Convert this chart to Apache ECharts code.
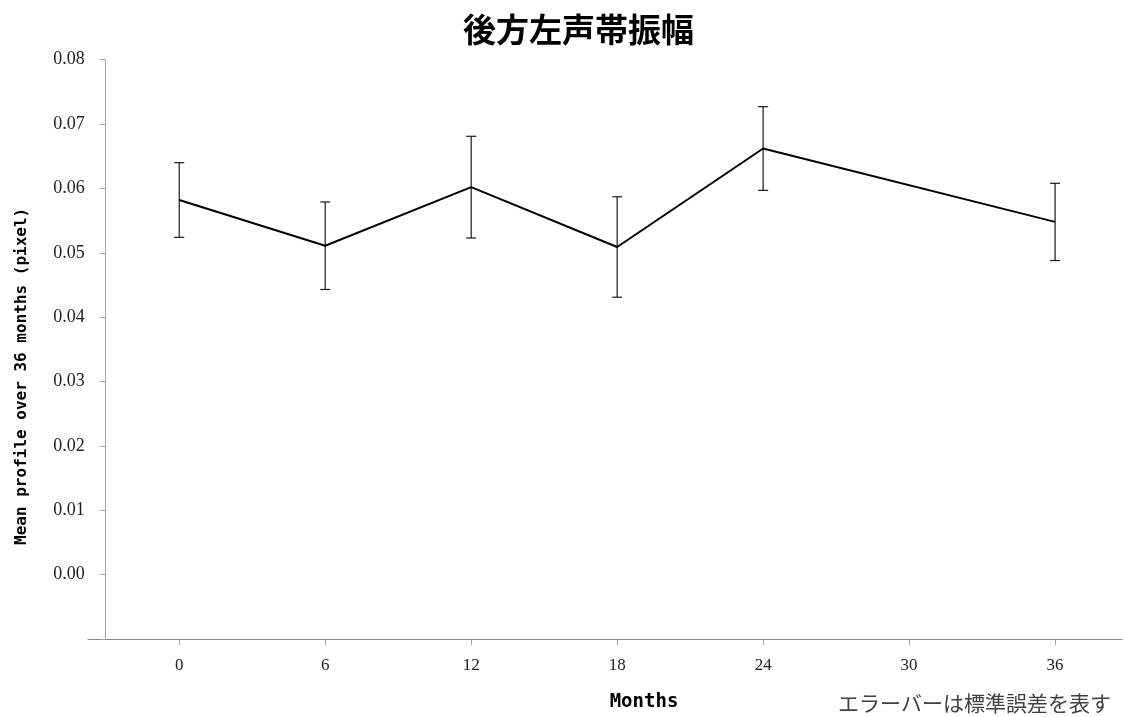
<!DOCTYPE html>
<html>
<head>
<meta charset="utf-8">
<script src="https://cdn.jsdelivr.net/npm/echarts@6/dist/echarts.min.js"></script>
<style>
  html, body { margin: 0; padding: 0; background: #fff; }
  #chart { width: 1124px; height: 717px; }
</style>
</head>
<body>
<div id="chart"></div>
<script>
// Measurement months and mean vocal-fold amplitude with its standard error
const months = [0, 6, 12, 18, 24, 36];
const meanProfile = [0.0582, 0.0511, 0.0602, 0.0509, 0.0662, 0.0548];
const stdError = [0.0058, 0.0068, 0.0079, 0.0078, 0.0065, 0.0060];
const monthTicks = [0, 6, 12, 18, 24, 30, 36];

const titleText = '後方左声帯振幅';
const xName = 'Months';
const yName = 'Mean profile over 36 months (pixel)';
const noteText = 'エラーバーは標準誤差を表す';

const linePoints = months.map((m, i) => [m, meanProfile[i]]);
const errorRanges = months.map((m, i) => [m, meanProfile[i] - stdError[i], meanProfile[i] + stdError[i]]);

const chart = echarts.init(document.getElementById('chart'), null, { renderer: 'canvas' });

const monoBold = '"DejaVu Sans Mono", "Liberation Mono", monospace';
const serif = '"Liberation Serif", "DejaVu Serif", serif';

chart.setOption({
  animation: false,
  backgroundColor: '#ffffff',
  title: [
    {
      text: titleText,
      left: 458,
      top: 8,
      textStyle: {
        fontFamily: '"Noto Sans CJK JP", sans-serif',
        fontSize: 33,
        fontWeight: 'bold',
        color: '#000'
      }
    },
    {
      text: noteText,
      right: 8,
      top: 688,
      textStyle: {
        fontFamily: '"Noto Sans CJK JP", sans-serif',
        fontSize: 21,
        fontWeight: 'normal',
        color: '#404040'
      }
    }
  ],
  grid: {
    left: 88,
    top: 59.7,
    width: 1034,
    height: 581.6,
    containLabel: false
  },
  xAxis: {
    type: 'value',
    min: -3.75,
    max: 38.75,
    name: xName,
    nameLocation: 'middle',
    nameGap: 54,
    nameTextStyle: {
      fontFamily: monoBold,
      fontWeight: 'bold',
      fontSize: 19,
      color: '#000',
      padding: [0, 0, 0, 78]
    },
    axisLine: { show: true, onZero: false, lineStyle: { color: '#868686', width: 1 } },
    axisTick: {
      show: true,
      inside: false,
      length: 6,
      customValues: monthTicks,
      lineStyle: { color: '#a0a0a0', width: 1 }
    },
    axisLabel: {
      customValues: monthTicks,
      margin: 18,
      fontFamily: serif,
      fontSize: 17,
      color: '#222'
    },
    splitLine: { show: false }
  },
  yAxis: {
    type: 'value',
    min: -0.01,
    max: 0.08,
    interval: 0.01,
    offset: -17.7,
    name: yName,
    nameLocation: 'middle',
    nameGap: 76,
    nameTextStyle: {
      fontFamily: monoBold,
      fontWeight: 'bold',
      fontSize: 16,
      color: '#000',
      padding: [0, 54, 0, 0]
    },
    axisLine: { show: true, onZero: false, lineStyle: { color: '#a6a6a6', width: 1 } },
    axisTick: {
      show: true,
      inside: false,
      length: 6,
      lineStyle: { color: '#a6a6a6', width: 1 }
    },
    axisLabel: {
      margin: 21,
      fontFamily: serif,
      fontSize: 18,
      color: '#222',
      formatter: v => (v < -1e-9 ? '' : v.toFixed(2))
    },
    splitLine: { show: false }
  },
  series: [
    {
      type: 'custom',
      name: 'SE',
      data: errorRanges,
      z: 2,
      renderItem: function (params, api) {
        const x = api.value(0);
        const lo = api.coord([x, api.value(1)]);
        const hi = api.coord([x, api.value(2)]);
        const half = 5;
        const style = { stroke: '#1a1a1a', lineWidth: 1.2 };
        return {
          type: 'group',
          children: [
            { type: 'line', shape: { x1: lo[0], y1: lo[1], x2: hi[0], y2: hi[1] }, style: style },
            { type: 'line', shape: { x1: hi[0] - half, y1: hi[1], x2: hi[0] + half, y2: hi[1] }, style: style },
            { type: 'line', shape: { x1: lo[0] - half, y1: lo[1], x2: lo[0] + half, y2: lo[1] }, style: style }
          ]
        };
      }
    },
    {
      type: 'line',
      name: 'mean',
      data: linePoints,
      z: 3,
      symbol: 'none',
      lineStyle: { color: '#000', width: 2 }
    }
  ]
});
</script>
</body>
</html>
